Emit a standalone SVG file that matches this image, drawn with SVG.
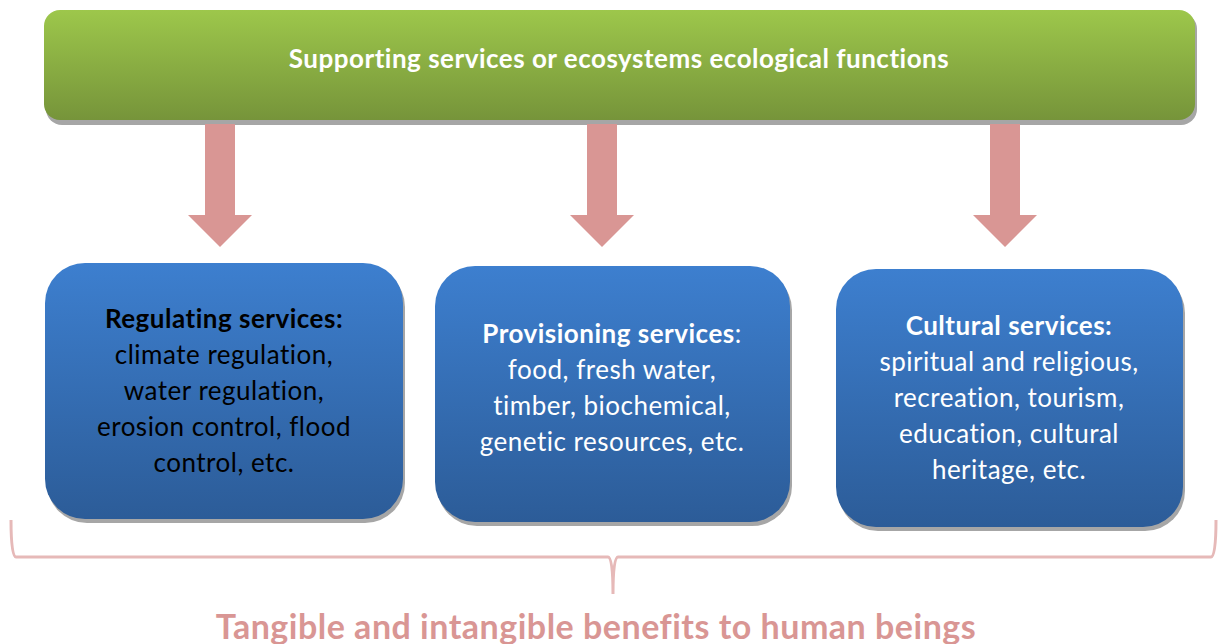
<svg xmlns="http://www.w3.org/2000/svg" width="1218" height="644" viewBox="0 0 1218 644">
<defs>
<linearGradient id="gGreen" x1="0" y1="0" x2="0" y2="1">
<stop offset="0" stop-color="#9dc74b"/>
<stop offset="1" stop-color="#76943a"/>
</linearGradient>
<linearGradient id="gBlue" x1="0" y1="0" x2="0" y2="1">
<stop offset="0" stop-color="#3d7fcf"/>
<stop offset="1" stop-color="#2c5c98"/>
</linearGradient>
<style>
.shadow{fill:#a6a6a6}
.blue{fill:url(#gBlue)}
.arrow{fill:#d99694}
.t{font-family:Lato,"Liberation Sans",sans-serif;font-size:26px;letter-spacing:0.5px;text-anchor:middle}
.b{font-weight:bold}
.w{fill:#ffffff}
.k{fill:#000000}
</style>
</defs>
<rect width="1218" height="644" fill="#ffffff"/>
<g id="supporting">
<rect class="shadow" x="46" y="13" width="1151" height="112" rx="16"/>
<rect x="44" y="10" width="1151" height="110" rx="16" fill="url(#gGreen)"/>
<text class="t b w" x="619" y="68">Supporting services or ecosystems ecological functions</text>
</g>
<g id="connectors">
<polygon class="arrow" points="205,124 235,124 235,215 252,215 220,247 188,215 205,215"/>
<polygon class="arrow" points="587,124 617,124 617,215 634,215 602,247 570,215 587,215"/>
<polygon class="arrow" points="990,124 1020,124 1020,215 1037,215 1005,247 973,215 990,215"/>
<path d="M11,520 Q11,557 16,557 L608,557 Q613,557 613,594 Q613,557 618,557 L1211,557 Q1216,557 1216,520" fill="none" stroke="#e6b9b8" stroke-width="3"/>
</g>
<g id="regulating">
<rect class="shadow" x="47" y="267" width="358" height="256" rx="40"/>
<rect class="blue" x="45" y="263" width="358" height="256" rx="40"/>
<text class="t k" x="224"><tspan class="b" x="224" y="328">Regulating services:</tspan><tspan x="224" y="364">climate regulation,</tspan><tspan x="224" y="400">water regulation,</tspan><tspan x="224" y="436">erosion control, flood</tspan><tspan x="224" y="472">control, etc.</tspan></text>
</g>
<g id="provisioning">
<rect class="shadow" x="437" y="270" width="355" height="256" rx="40"/>
<rect class="blue" x="435" y="266" width="355" height="256" rx="40"/>
<text class="t w" x="612"><tspan x="612" y="343"><tspan class="b">Provisioning services</tspan>:</tspan><tspan x="612" y="379">food, fresh water,</tspan><tspan x="612" y="415">timber, biochemical,</tspan><tspan x="612" y="451">genetic resources, etc.</tspan></text>
</g>
<g id="cultural">
<rect class="shadow" x="838" y="273" width="347" height="258" rx="40"/>
<rect class="blue" x="836" y="269" width="347" height="258" rx="40"/>
<text class="t w" x="1009"><tspan class="b" x="1009" y="335">Cultural services:</tspan><tspan x="1009" y="371">spiritual and religious,</tspan><tspan x="1009" y="407">recreation, tourism,</tspan><tspan x="1009" y="443">education, cultural</tspan><tspan x="1009" y="479">heritage, etc.</tspan></text>
</g>
<g id="benefits">
<text class="t b" x="596" y="639" style="font-size:34px;fill:#d99694">Tangible and intangible benefits to human beings</text>
</g>
</svg>
